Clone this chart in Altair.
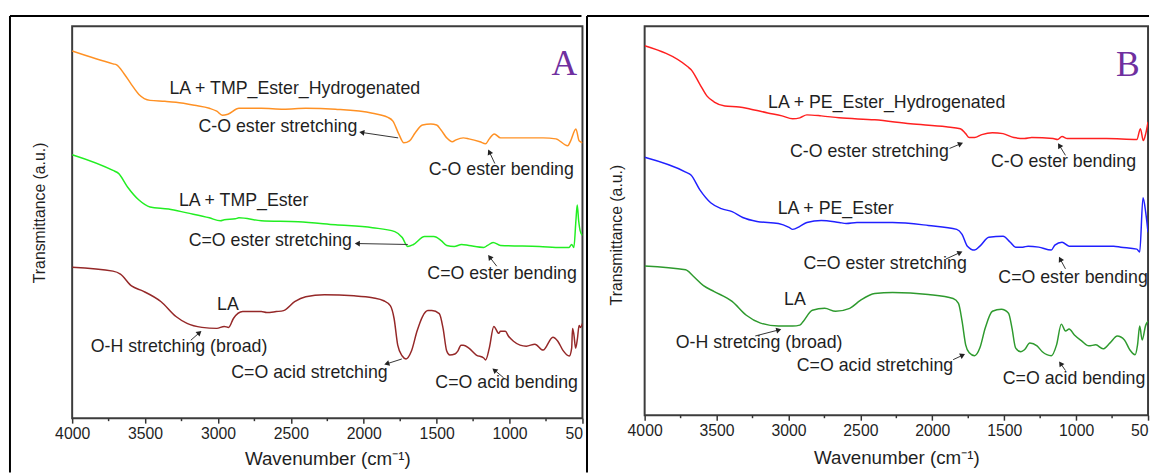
import math
import altair as alt
import pandas as pd

# ---------------- axis ticks ----------------
WN_TICKS = [4000, 3500, 3000, 2500, 2000, 1500, 1000, 500]
WN_MINOR = [3750, 3250, 2750, 2250, 1750, 1250, 750]

# ---------------- Panel A spectra ----------------
a_hyd_w = [4000, 3720, 3695, 3644, 3593, 3542, 3466, 3364, 3288, 3161, 3059, 3008, 2970, 2932, 2856, 2703,
           2550, 2398, 2194, 1940, 1838, 1800, 1760, 1725, 1686, 1648, 1597, 1540, 1500, 1470, 1431, 1393,
           1367, 1317, 1279, 1203, 1164, 1139, 1105, 1062, 922, 770, 682, 601, 581, 545, 523, 500]
a_hyd_t = [372, 359, 358, 349, 338, 328, 322, 321, 320, 317, 314, 311, 307, 308, 314, 314,
           313, 314, 313, 309, 305, 301, 288, 279, 281, 289, 297, 298, 297, 292, 284, 280,
           282, 284, 283, 280, 278, 283, 288, 284, 284, 284, 283, 276, 281, 293, 281, 279]

a_est_w = [4000, 3720, 3682, 3619, 3542, 3466, 3339, 3212, 3059, 2983, 2957, 2881, 2856, 2703, 2449, 2194,
           1940, 1787, 1736, 1698, 1659, 1583, 1520, 1469, 1431, 1380, 1329, 1279, 1177, 1151, 1113, 1062,
           796, 643, 592, 574, 559, 545, 536, 526, 516, 500]
a_est_t = [267, 251, 248, 234, 221, 214, 212, 208, 203, 200, 201, 202, 203, 200, 199, 196,
           193, 189, 183, 174, 176, 184, 184, 180, 175, 174, 176, 175, 173, 175, 178, 175,
           174, 173, 173, 176, 173, 200, 216, 200, 190, 185]

a_la_w = [4000, 3720, 3669, 3593, 3517, 3390, 3288, 3212, 3110, 3008, 2957, 2927, 2894, 2830, 2703, 2665,
          2601, 2550, 2474, 2398, 2270, 2067, 1940, 1863, 1818, 1792, 1767, 1736, 1710, 1673, 1635, 1597,
          1560, 1533, 1482, 1456, 1431, 1410, 1375, 1355, 1333, 1317, 1279, 1228, 1177, 1164, 1139, 1108,
          1074, 1063, 1029, 1007, 973, 928, 885, 826, 770, 703, 669, 635, 590, 574, 568, 559, 547, 535,
          523, 514, 500]
a_la_t = [153, 149, 146, 134, 129, 118, 103, 96, 92, 91, 93, 92, 101, 108, 108, 107,
          108, 109, 118, 123, 125, 124, 122, 119, 114, 101, 74, 63, 60, 68, 88, 103,
          109, 109, 106, 91, 68, 64, 65, 68, 74, 74, 71, 64, 61, 59, 71, 93,
          86, 88, 88, 83, 78, 74, 73, 75, 69, 82, 78, 69, 63, 71, 91, 85, 71, 80,
          94, 92, 96]

# ---------------- Panel B spectra ----------------
b_hyd_w = [4000, 3702, 3678, 3616, 3566, 3516, 3442, 3343, 3268, 3144, 3045, 2971, 2921, 2872, 2772, 2648,
           2400, 2152, 1904, 1805, 1768, 1743, 1706, 1656, 1582, 1508, 1433, 1359, 1309, 1160, 1129, 1098,
           1061, 789, 578, 553, 533, 516, 500]
b_hyd_t = [374, 353, 350, 335, 323, 317, 313, 312, 310, 306, 303, 300, 301, 304, 303, 301,
           299, 295, 292, 290, 285, 281, 281, 284, 286, 285, 281, 280, 281, 280, 279, 282,
           280, 280, 279, 290, 278, 285, 297]

b_est_w = [4000, 3715, 3678, 3616, 3541, 3467, 3392, 3318, 3219, 3070, 2996, 2971, 2921, 2872, 2772, 2648,
           2598, 2524, 2276, 2028, 1830, 1793, 1756, 1706, 1669, 1607, 1508, 1458, 1421, 1371, 1334, 1260,
           1173, 1148, 1098, 1049, 912, 739, 689, 578, 558, 535, 516, 500]
b_est_t = [261, 246, 243, 228, 215, 209, 206, 200, 196, 194, 190, 188, 191, 195, 197, 195,
           194, 195, 195, 192, 188, 183, 171, 167, 171, 180, 181, 175, 170, 170, 171, 170,
           167, 172, 175, 171, 171, 171, 170, 168, 165, 220, 205, 185]

b_la_w = [4000, 3715, 3665, 3591, 3516, 3392, 3293, 3194, 3070, 2971, 2921, 2896, 2834, 2748, 2673, 2574,
          2500, 2400, 2276, 2028, 1855, 1818, 1793, 1768, 1743, 1706, 1669, 1632, 1582, 1520, 1470, 1446,
          1421, 1384, 1359, 1322, 1272, 1235, 1173, 1136, 1103, 1074, 1049, 1012, 962, 912, 863, 813,
          764, 714, 664, 627, 590, 573, 558, 541, 516, 500]
b_la_t = [151, 147, 141, 131, 125, 115, 101, 93, 90, 90, 91, 95, 106, 108, 105, 108,
          116, 123, 124, 122, 118, 113, 95, 71, 63, 60, 68, 88, 105, 107, 103, 88,
          68, 64, 66, 73, 70, 64, 60, 71, 92, 85, 87, 81, 75, 70, 71, 67,
          73, 80, 76, 66, 61, 71, 90, 76, 91, 95]

A_NAMES = ["LA + TMP_Ester_Hydrogenated", "LA + TMP_Ester", "LA"]
A_COLORS = ["#ff9124", "#22ee22", "#952828"]
B_NAMES = ["LA + PE_Ester_Hydrogenated", "LA + PE_Ester", "LA"]
B_COLORS = ["#ff2020", "#2020ff", "#2e9a2e"]

# ---------------- annotations: (text, wavenumber, transmittance) ----------------
a_center = [("LA + TMP_Ester_Hydrogenated", 2473, 333), ("LA + TMP_Ester", 2824, 220),
            ("LA", 2932, 115), ("O-H stretching (broad)", 3267, 72)]
a_right = [("C-O ester stretching", 2044, 295), ("C=O ester stretching", 2081, 179),
           ("C=O acid stretching", 1836, 46)]
a_left = [("C-O ester bending", 1554, 251), ("C=O ester bending", 1564, 146),
          ("C=O acid bending", 1509, 36)]
# arrows: tail (w, t) -> tip (w, t)
a_arrows = [(1764, 284, 2037, 290), (1101, 258, 1149, 273), (1698, 176, 2068, 177),
            (1088, 154, 1151, 166), (3186, 79, 3109, 89), (1739, 60, 1865, 54),
            (1041, 41, 1122, 51)]

b_center = [("LA + PE_Ester_Hydrogenated", 2317, 316), ("LA + PE_Ester", 2672, 209),
            ("LA", 2955, 116), ("O-H stretcing (broad)", 3204, 73)]
b_right = [("C-O ester stretching", 1885, 266), ("C=O ester stretching", 1760, 153),
           ("C=O acid stretching", 1855, 50)]
b_left = [("C-O ester bending", 1592, 256), ("C=O ester bending", 1541, 139),
          ("C=O acid bending", 1510, 36)]
b_arrows = [(1880, 270, 1781, 276), (1074, 263, 1129, 276), (1905, 158, 1785, 166),
            (1074, 148, 1122, 161), (3231, 80, 3044, 87), (1855, 56, 1767, 62),
            (1074, 45, 1122, 55)]

FONT = "Liberation Sans, Arial, sans-serif"
TXT = "#1f1f1f"


def make_panel(curves, names, colors, center, right, left, arrows, letter, letter_pos,
               width, height, ydom, frame, title_x, title_y, xtitle_y):
    rows = []
    for name, (ws, ts) in zip(names, curves):
        for wi, ti in zip(ws, ts):
            rows.append({"series": name, "w": wi, "t": ti})
    df = pd.DataFrame(rows)

    xs = alt.Scale(domain=[500, 4000], reverse=True, nice=False, zero=False)
    ys = alt.Scale(domain=ydom, nice=False, zero=False)
    xa = alt.Axis(values=WN_TICKS, format="d", title="Wavenumber (cm⁻¹)", grid=False, domain=False,
                  labelFlush=False, labelOverlap=False,
                  labelExpr="datum.value == 500 ? '50' : datum.label",
                  labelAlign={"condition": {"test": "datum.value == 500", "value": "right"}, "value": "center"},
                  tickSize=5, labelPadding=3, titleY=xtitle_y, titleBaseline="top", titleFontSize=19)
    ya = alt.Axis(title="Transmittance (a.u.)", labels=False, ticks=False, domain=False, grid=False,
                  titleX=title_x, titleY=title_y, titleBaseline="middle", titleFontSize=16)

    def X(f):
        return alt.X(f, scale=xs, axis=xa)

    def Y(f):
        return alt.Y(f, scale=ys, axis=ya)

    lines = alt.Chart(df).mark_line(strokeWidth=1.5, interpolate="monotone", clip=True).encode(
        x=X("w:Q"), y=Y("t:Q"),
        color=alt.Color("series:N", scale=alt.Scale(domain=names, range=colors), legend=None),
        order=alt.Order("w:Q", sort="descending"),
    )

    layers = [lines]
    for items, align in ((center, "center"), (right, "right"), (left, "left")):
        tdf = pd.DataFrame(items, columns=["label", "w", "t"])
        layers.append(alt.Chart(tdf).mark_text(align=align, baseline="middle", font=FONT,
                                               fontSize=18, color=TXT, clip=True).encode(
            x=X("w:Q"), y=Y("t:Q"), text="label:N"))

    # arrow geometry: shaft from tail to tip, triangle centred a little behind the tip
    kx = width / 3500.0
    ky = height / float(ydom[1] - ydom[0])
    arows = []
    for (w1, t1, w2, t2) in arrows:
        dx = -(w2 - w1) * kx
        dy = -(t2 - t1) * ky
        L = math.hypot(dx, dy)
        ux, uy = dx / L, dy / L
        back = 3.5
        hw = w2 + (back * ux) / kx
        ht = t2 + (back * uy) / ky
        ang = math.degrees(math.atan2(dx, -dy)) % 360
        arows.append({"w1": w1, "t1": t1, "w2": w2, "t2": t2, "hw": hw, "ht": ht, "ang": ang})
    adf = pd.DataFrame(arows)
    layers.append(alt.Chart(adf).mark_rule(color="#333333", strokeWidth=1).encode(
        x=X("w1:Q"), y=Y("t1:Q"), x2="hw:Q", y2="ht:Q"))
    layers.append(alt.Chart(adf).mark_point(shape="triangle-up", filled=True, size=36,
                                            color="#222222", opacity=1).encode(
        x=X("hw:Q"), y=Y("ht:Q"), angle=alt.Angle("ang:Q", scale=None)))

    ldf = pd.DataFrame({"s": [letter], "w": [letter_pos[0]], "t": [letter_pos[1]]})
    layers.append(alt.Chart(ldf).mark_text(font="Liberation Serif, Times New Roman, serif", fontSize=36,
                                           color="#6f2f9f", align="center", baseline="alphabetic").encode(
        x=X("w:Q"), y=Y("t:Q"), text="s:N"))

    mdf = pd.DataFrame({"w": WN_MINOR})
    layers.append(alt.Chart(mdf).mark_rule(color="#333333", strokeWidth=1.5).encode(
        x=X("w:Q"), y=alt.value(height), y2=alt.value(height + 3)))

    fx, fy, fx2, fy2 = frame
    one = pd.DataFrame({"k": [0]})
    layers.append(alt.Chart(one).mark_rule(color="black", strokeWidth=2).encode(
        x=alt.value(fx), x2=alt.value(fx2), y=alt.value(fy), y2=alt.value(fy)))
    layers.append(alt.Chart(one).mark_rule(color="black", strokeWidth=2).encode(
        x=alt.value(fx), x2=alt.value(fx), y=alt.value(fy), y2=alt.value(fy2)))

    return alt.layer(*layers).properties(width=width, height=height)


panel_a = make_panel([(a_hyd_w, a_hyd_t), (a_est_w, a_est_t), (a_la_w, a_la_t)], A_NAMES, A_COLORS,
                     a_center, a_right, a_left, a_arrows, "A", (625, 348),
                     517, 397, [0, 397], (-63, -10.5, 516, 452), -33, 188.5, 32)
panel_b = make_panel([(b_hyd_w, b_hyd_t), (b_est_w, b_est_t), (b_la_w, b_la_t)], B_NAMES, B_COLORS,
                     b_center, b_right, b_left, b_arrows, "B", (640, 343),
                     510, 394, [-0.3, 393.7], (-58.4, -10.5, 511, 452), -28, 211, 34)

chart = alt.hconcat(panel_a, panel_b, spacing=0).resolve_scale(
    color="independent"
).properties(
    padding={"left": 0, "top": 2.5, "right": 0, "bottom": 0},
    background="white",
).configure_view(
    stroke="#3c3c3c", strokeWidth=2
).configure_axis(
    labelFont=FONT, titleFont=FONT, labelFontSize=16, labelColor=TXT, titleColor=TXT,
    tickColor="#333333", tickWidth=1.5, titleFontWeight="normal"
)

chart.save("out.html", embed_options={"renderer": "svg", "actions": False})
